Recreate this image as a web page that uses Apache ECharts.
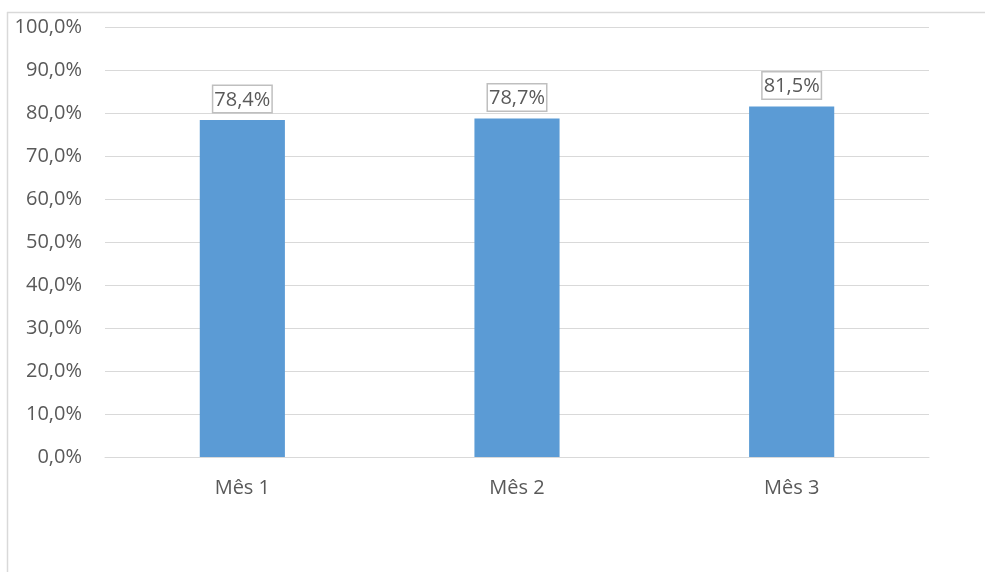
<!DOCTYPE html>
<html>
<head>
<meta charset="utf-8">
<script src="https://cdn.jsdelivr.net/npm/echarts@6/dist/echarts.min.js"></script>
<style>
  html, body { margin: 0; padding: 0; background: #fff; }
  #chart { width: 985px; height: 572px; }
</style>
</head>
<body>
<div id="chart"></div>
<script>
// Monthly percentages
const categories = ['Mês 1', 'Mês 2', 'Mês 3'];
const values = [78.4, 78.7, 81.5];

const fmt = v => v.toFixed(1).replace('.', ',') + '%';
const textColor = '#595959';
const fontFamily = '"Open Sans", "Noto Sans", sans-serif';
const fontSize = 20;

const chart = echarts.init(document.getElementById('chart'));
chart.setOption({
  animation: false,
  backgroundColor: '#fff',
  grid: { left: 105, right: 56, top: 27, bottom: 115 },
  graphic: [
    { type: 'line', shape: { x1: 7, y1: 12.5, x2: 985, y2: 12.5 }, style: { stroke: '#d9d9d9', lineWidth: 1.5 } },
    { type: 'line', shape: { x1: 7.5, y1: 12, x2: 7.5, y2: 572 }, style: { stroke: '#d9d9d9', lineWidth: 1.5 } }
  ],
  xAxis: {
    type: 'category',
    data: categories,
    axisLine: { lineStyle: { color: '#d9d9d9', width: 1 } },
    axisTick: { show: false },
    axisLabel: { color: textColor, fontSize, fontFamily, margin: 21 }
  },
  yAxis: {
    type: 'value',
    min: 0, max: 100, interval: 10,
    axisLine: { show: false },
    axisTick: { show: false },
    splitLine: { lineStyle: { color: '#d9d9d9', width: 1 } },
    axisLabel: { color: textColor, fontSize, fontFamily, margin: 23, formatter: v => fmt(v) }
  },
  series: [{
    type: 'bar',
    data: values,
    barWidth: '31%',
    itemStyle: { color: '#5b9bd5' },
    label: {
      show: true,
      position: 'top',
      distance: 8,
      formatter: p => fmt(p.value),
      color: textColor,
      fontSize,
      fontFamily,
      backgroundColor: '#fff',
      borderColor: '#bfbfbf',
      borderWidth: 1.5,
      padding: [4, 1, 2, 1]
    }
  }]
});
</script>
</body>
</html>
